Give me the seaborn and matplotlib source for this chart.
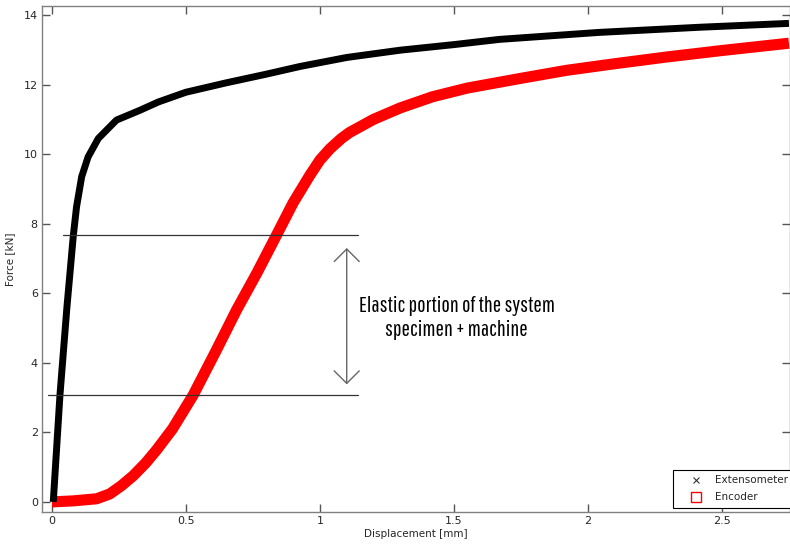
import matplotlib
matplotlib.use("Agg")
import matplotlib.pyplot as plt
import seaborn as sns
import pandas as pd
from matplotlib.lines import Line2D
from matplotlib.patches import FancyArrowPatch

# Extensometer (black)
ext_x = [0.005, 0.03, 0.056, 0.08, 0.092, 0.111, 0.135, 0.173, 0.241, 0.328, 0.397,
         0.5, 0.65, 0.8, 0.925, 1.1, 1.3, 1.5, 1.67, 2.04, 2.42, 2.75]
ext_y = [0.0, 3.07, 5.6, 7.67, 8.49, 9.35, 9.92, 10.45, 10.98, 11.26, 11.5,
         11.78, 12.05, 12.3, 12.52, 12.78, 12.99, 13.15, 13.3, 13.5, 13.65, 13.76]

# Encoder (red)
enc_x = [0.0, 0.08, 0.167, 0.216, 0.26, 0.303, 0.35, 0.39, 0.45, 0.527, 0.614, 0.689,
         0.764, 0.838, 0.9, 0.963, 1.0, 1.037, 1.08, 1.11, 1.2, 1.3, 1.42, 1.55,
         1.75, 1.92, 2.1, 2.29, 2.5, 2.75]
enc_y = [0.0, 0.03, 0.09, 0.23, 0.47, 0.75, 1.12, 1.49, 2.1, 3.07, 4.37, 5.52,
         6.57, 7.67, 8.6, 9.4, 9.83, 10.15, 10.45, 10.62, 11.0, 11.33, 11.65, 11.9,
         12.18, 12.41, 12.6, 12.79, 12.98, 13.19]

x_ticks = [0, 0.5, 1, 1.5, 2, 2.5]
x_ticklabels = ["0", "0.5", "1", "1.5", "2", "2.5"]
y_ticks = [0, 2, 4, 6, 8, 10, 12, 14]
y_ticklabels = ["0", "2", "4", "6", "8", "10", "12", "14"]

band_levels = [7.67, 3.07]
band_x_start = [0.041, -0.015]
band_x_end = [1.142, 1.142]

annotation = "Elastic portion of the system\nspecimen + machine"
legend_labels = ["Extensometer", "Encoder"]

sns.set_style("white")
plt.rcParams['font.family'] = ['DejaVu Sans']

fig = plt.figure(figsize=(7.9, 5.49), dpi=100)
ax = fig.add_axes([42/790, 1 - 512/549, 1 - 42/790, (512 - 6)/549])

df_ext = pd.DataFrame({"x": ext_x, "y": ext_y})
df_enc = pd.DataFrame({"x": enc_x, "y": enc_y})

sns.lineplot(data=df_enc, x="x", y="y", ax=ax, color="#ff0000", linewidth=8,
             sort=False, legend=False, solid_capstyle="butt", solid_joinstyle="round")
sns.lineplot(data=df_ext, x="x", y="y", ax=ax, color="black", linewidth=5,
             sort=False, legend=False, solid_capstyle="butt", solid_joinstyle="round")

for lvl, xs, xe in zip(band_levels, band_x_start, band_x_end):
    ax.plot([xs, xe], [lvl, lvl], color="#333333", lw=0.9)

arrow = FancyArrowPatch((1.10, 7.38), (1.10, 3.30),
                        arrowstyle="<->,head_length=0.45,head_width=0.45",
                        mutation_scale=20, color="#666666", lw=1)
ax.add_patch(arrow)

ax.text(1.51, 5.29, annotation, ha="center", va="center", fontsize=16,
        family=["Pathway Gothic One", "Barlow Condensed", "Yanone Kaffeesatz", "DejaVu Sans"],
        linespacing=1.3, color="black")

ax.set_xlim(-0.037, 2.754)
ax.set_ylim(-0.29, 14.26)
ax.set_xticks(x_ticks)
ax.set_xticklabels(x_ticklabels)
ax.set_yticks(y_ticks)
ax.set_yticklabels(y_ticklabels)
ax.tick_params(direction="in", length=5.5, width=1, colors="#555555",
               labelcolor="#262626", labelsize=8, top=True, right=True,
               bottom=True, left=True, pad=3)
for s in ax.spines.values():
    s.set_color("#808080")
    s.set_linewidth(1)
    s.set_visible(True)

ax.set_xlabel("Displacement [mm]", fontsize=7.5, color="#262626", labelpad=2)
ax.set_ylabel("Force [kN]", fontsize=7.5, color="#262626", labelpad=6)

handles = [Line2D([], [], linestyle="none", marker="x", color="#333333",
                  markersize=4, markeredgewidth=0.8),
           Line2D([], [], linestyle="none", marker="s", markerfacecolor="none",
                  markeredgecolor="red", markersize=7, markeredgewidth=1)]
leg = ax.legend(handles, legend_labels, loc="lower left",
                bbox_to_anchor=(0.8436, 0.008), fontsize=7.5, frameon=True,
                fancybox=False, framealpha=1, borderpad=0.55, handlelength=3.4,
                handletextpad=0.05, labelspacing=0.65, borderaxespad=0)
leg.get_frame().set_edgecolor("black")
leg.get_frame().set_linewidth(0.8)

fig.savefig("out.png", dpi=100)
